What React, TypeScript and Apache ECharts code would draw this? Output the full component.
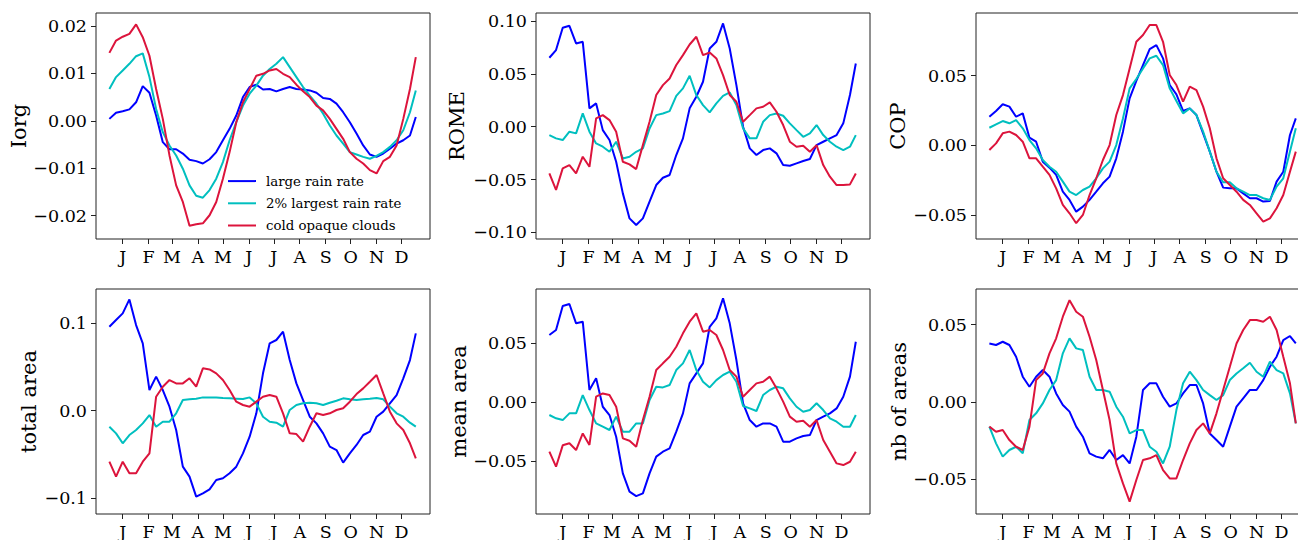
import React, { useEffect, useRef } from "react";
import * as echarts from "echarts";

// day of year (0 = 1 January)
const days = [-16, -8, 0, 8, 16, 24, 32, 40, 48, 56, 64, 72, 80, 88, 96, 104, 112, 120, 128, 136, 144, 152, 160, 168, 176, 184, 192, 200, 208, 216, 224, 232, 240, 248, 256, 264, 272, 280, 288, 296, 304, 312, 320, 328, 336, 344, 351];

const monthStarts = [0, 31, 59, 90, 120, 151, 181, 212, 243, 273, 304, 334];
const monthLabels = ["J", "F", "M", "A", "M", "J", "J", "A", "S", "O", "N", "D"];

const seriesNames = ["large rain rate", "2% largest rain rate", "cold opaque clouds"];

// Iorg
const iorgLarge = [0.0004, 0.0017, 0.0020, 0.0024, 0.0039, 0.0073, 0.0059, 0.0011, -0.0045, -0.0060, -0.0060, -0.0069, -0.0082, -0.0085, -0.0090, -0.0081, -0.0066, -0.0041, -0.0017, 0.0011, 0.0050, 0.0071, 0.0076, 0.0066, 0.0067, 0.0062, 0.0067, 0.0071, 0.0067, 0.0066, 0.0064, 0.0059, 0.0048, 0.0046, 0.0036, 0.0018, -0.0003, -0.0027, -0.0052, -0.0071, -0.0076, -0.0069, -0.0059, -0.0048, -0.0041, -0.0031, 0.0008];
const iorgTop2 = [0.0067, 0.0092, 0.0106, 0.0120, 0.0136, 0.0142, 0.0092, 0.0025, -0.0024, -0.0052, -0.0073, -0.0101, -0.0136, -0.0158, -0.0162, -0.0146, -0.0122, -0.0087, -0.0041, -0.0003, 0.0032, 0.0057, 0.0074, 0.0095, 0.0109, 0.0120, 0.0134, 0.0113, 0.0092, 0.0071, 0.0053, 0.0036, 0.0015, -0.0010, -0.0031, -0.0048, -0.0066, -0.0071, -0.0076, -0.0080, -0.0074, -0.0066, -0.0055, -0.0041, -0.0020, 0.0018, 0.0064];
const iorgCold = [0.0143, 0.0169, 0.0177, 0.0183, 0.0203, 0.0176, 0.0137, 0.0067, 0.0004, -0.0073, -0.0136, -0.0171, -0.0221, -0.0218, -0.0216, -0.0199, -0.0171, -0.0122, -0.0066, -0.0003, 0.0039, 0.0067, 0.0095, 0.0099, 0.0106, 0.0109, 0.0099, 0.0092, 0.0076, 0.0062, 0.0050, 0.0032, 0.0022, 0.0004, -0.0017, -0.0038, -0.0066, -0.0080, -0.0090, -0.0104, -0.0111, -0.0085, -0.0076, -0.0052, 0.0004, 0.0067, 0.0134];

// ROME
const romeLarge = [0.0653, 0.0726, 0.0937, 0.0956, 0.0789, 0.0804, 0.0174, 0.0221, -0.0032, -0.0126, -0.0331, -0.0631, -0.0868, -0.0931, -0.0868, -0.0710, -0.0552, -0.0483, -0.0457, -0.0268, -0.0110, 0.0174, 0.0284, 0.0426, 0.0741, 0.0804, 0.0978, 0.0741, 0.0394, 0.0000, -0.0205, -0.0268, -0.0221, -0.0205, -0.0252, -0.0363, -0.0369, -0.0347, -0.0325, -0.0306, -0.0174, -0.0142, -0.0110, -0.0079, 0.0032, 0.0300, 0.0599];
const romeTop2 = [-0.0079, -0.0110, -0.0126, -0.0047, -0.0063, 0.0126, -0.0047, -0.0158, -0.0189, -0.0237, -0.0142, -0.0300, -0.0284, -0.0237, -0.0205, -0.0016, 0.0110, 0.0126, 0.0148, 0.0293, 0.0363, 0.0483, 0.0300, 0.0205, 0.0136, 0.0221, 0.0293, 0.0325, 0.0205, -0.0016, -0.0110, -0.0110, 0.0047, 0.0110, 0.0126, 0.0104, 0.0032, -0.0032, -0.0095, -0.0063, 0.0016, -0.0079, -0.0142, -0.0189, -0.0221, -0.0189, -0.0079];
const romeCold = [-0.0442, -0.0599, -0.0394, -0.0363, -0.0442, -0.0284, -0.0379, 0.0079, 0.0110, 0.0063, -0.0047, -0.0331, -0.0356, -0.0401, -0.0174, 0.0047, 0.0300, 0.0394, 0.0457, 0.0584, 0.0678, 0.0779, 0.0852, 0.0678, 0.0703, 0.0647, 0.0489, 0.0300, 0.0237, 0.0047, 0.0110, 0.0174, 0.0189, 0.0230, 0.0142, 0.0016, -0.0142, -0.0189, -0.0180, -0.0237, -0.0174, -0.0363, -0.0473, -0.0552, -0.0552, -0.0546, -0.0442];

// COP
const copLarge = [0.0205, 0.0246, 0.0294, 0.0277, 0.0205, 0.0229, 0.0055, 0.0026, -0.0117, -0.0160, -0.0212, -0.0332, -0.0391, -0.0475, -0.0439, -0.0391, -0.0332, -0.0272, -0.0224, -0.0093, 0.0098, 0.0337, 0.0461, 0.0575, 0.0690, 0.0718, 0.0623, 0.0432, 0.0365, 0.0246, 0.0265, 0.0217, 0.0086, -0.0045, -0.0189, -0.0303, -0.0308, -0.0308, -0.0344, -0.0379, -0.0379, -0.0403, -0.0399, -0.0260, -0.0189, 0.0074, 0.0193];
const copTop2 = [0.0126, 0.0150, 0.0174, 0.0158, 0.0181, 0.0122, 0.0038, -0.0021, -0.0105, -0.0153, -0.0189, -0.0260, -0.0332, -0.0356, -0.0320, -0.0296, -0.0236, -0.0165, -0.0117, 0.0002, 0.0193, 0.0408, 0.0475, 0.0551, 0.0623, 0.0642, 0.0575, 0.0408, 0.0317, 0.0229, 0.0265, 0.0217, 0.0098, -0.0045, -0.0189, -0.0265, -0.0265, -0.0308, -0.0332, -0.0356, -0.0356, -0.0379, -0.0391, -0.0296, -0.0236, -0.0045, 0.0122];
const copCold = [-0.0033, 0.0014, 0.0086, 0.0098, 0.0074, 0.0026, -0.0093, -0.0093, -0.0153, -0.0212, -0.0308, -0.0427, -0.0487, -0.0558, -0.0499, -0.0356, -0.0236, -0.0105, 0.0002, 0.0217, 0.0360, 0.0551, 0.0742, 0.0790, 0.0862, 0.0862, 0.0742, 0.0504, 0.0432, 0.0313, 0.0420, 0.0396, 0.0277, 0.0122, -0.0093, -0.0236, -0.0284, -0.0332, -0.0391, -0.0427, -0.0487, -0.0547, -0.0523, -0.0451, -0.0356, -0.0189, -0.0045];

// total area
const areaLarge = [0.0960, 0.1036, 0.1112, 0.1272, 0.0979, 0.0770, 0.0236, 0.0389, 0.0236, 0.0046, -0.0221, -0.0640, -0.0754, -0.0983, -0.0945, -0.0899, -0.0792, -0.0773, -0.0716, -0.0640, -0.0488, -0.0297, -0.0030, 0.0427, 0.0770, 0.0808, 0.0903, 0.0579, 0.0312, 0.0122, -0.0069, -0.0145, -0.0259, -0.0411, -0.0450, -0.0594, -0.0488, -0.0392, -0.0278, -0.0240, -0.0069, -0.0011, 0.0084, 0.0179, 0.0370, 0.0579, 0.0884];
const areaTop2 = [-0.0183, -0.0259, -0.0373, -0.0278, -0.0221, -0.0145, -0.0050, -0.0183, -0.0126, -0.0126, -0.0030, 0.0122, 0.0130, 0.0137, 0.0152, 0.0152, 0.0152, 0.0145, 0.0141, 0.0137, 0.0133, 0.0152, 0.0084, -0.0069, -0.0126, -0.0137, -0.0183, 0.0008, 0.0065, 0.0084, 0.0091, 0.0084, 0.0065, 0.0091, 0.0114, 0.0141, 0.0130, 0.0122, 0.0130, 0.0137, 0.0145, 0.0130, 0.0046, -0.0030, -0.0069, -0.0137, -0.0183];
const areaCold = [-0.0583, -0.0754, -0.0583, -0.0716, -0.0716, -0.0583, -0.0488, 0.0160, 0.0274, 0.0350, 0.0312, 0.0312, 0.0370, 0.0274, 0.0484, 0.0472, 0.0427, 0.0350, 0.0236, 0.0103, 0.0065, 0.0046, 0.0103, 0.0160, 0.0179, 0.0160, -0.0030, -0.0259, -0.0267, -0.0354, -0.0183, -0.0030, -0.0050, -0.0030, 0.0008, 0.0027, 0.0103, 0.0190, 0.0255, 0.0331, 0.0408, 0.0198, -0.0011, -0.0145, -0.0221, -0.0373, -0.0545];

// mean area
const meanLarge = [0.0568, 0.0610, 0.0814, 0.0831, 0.0667, 0.0681, 0.0102, 0.0201, -0.0040, -0.0110, -0.0294, -0.0605, -0.0760, -0.0797, -0.0774, -0.0605, -0.0463, -0.0421, -0.0393, -0.0251, -0.0096, 0.0158, 0.0243, 0.0328, 0.0638, 0.0709, 0.0879, 0.0667, 0.0356, -0.0011, -0.0153, -0.0209, -0.0181, -0.0181, -0.0209, -0.0336, -0.0336, -0.0308, -0.0288, -0.0280, -0.0153, -0.0124, -0.0096, -0.0054, 0.0045, 0.0215, 0.0511];
const meanTop2 = [-0.0110, -0.0138, -0.0153, -0.0096, -0.0096, 0.0059, -0.0068, -0.0181, -0.0209, -0.0237, -0.0124, -0.0251, -0.0251, -0.0181, -0.0181, 0.0017, 0.0130, 0.0124, 0.0144, 0.0271, 0.0328, 0.0441, 0.0271, 0.0172, 0.0124, 0.0186, 0.0229, 0.0257, 0.0172, -0.0034, -0.0054, -0.0076, 0.0059, 0.0102, 0.0130, 0.0116, 0.0031, -0.0040, -0.0082, -0.0068, -0.0011, -0.0068, -0.0138, -0.0167, -0.0209, -0.0209, -0.0110];
const meanCold = [-0.0421, -0.0548, -0.0367, -0.0350, -0.0407, -0.0266, -0.0364, 0.0045, 0.0073, 0.0059, -0.0040, -0.0308, -0.0328, -0.0379, -0.0153, 0.0045, 0.0271, 0.0328, 0.0384, 0.0469, 0.0582, 0.0681, 0.0751, 0.0596, 0.0610, 0.0568, 0.0441, 0.0271, 0.0215, 0.0045, 0.0102, 0.0158, 0.0172, 0.0215, 0.0116, 0.0003, -0.0124, -0.0167, -0.0158, -0.0209, -0.0153, -0.0322, -0.0421, -0.0520, -0.0534, -0.0506, -0.0421];

// nb of areas
const nbLarge = [0.0379, 0.0369, 0.0390, 0.0369, 0.0293, 0.0164, 0.0099, 0.0164, 0.0207, 0.0164, 0.0056, -0.0019, -0.0062, -0.0159, -0.0224, -0.0332, -0.0353, -0.0364, -0.0310, -0.0375, -0.0343, -0.0397, -0.0224, 0.0078, 0.0121, 0.0121, 0.0034, -0.0030, -0.0009, 0.0056, 0.0110, 0.0110, -0.0009, -0.0203, -0.0246, -0.0289, -0.0159, -0.0030, 0.0024, 0.0078, 0.0078, 0.0142, 0.0228, 0.0293, 0.0401, 0.0427, 0.0379];
const nbTop2 = [-0.0159, -0.0267, -0.0353, -0.0310, -0.0289, -0.0332, -0.0116, -0.0073, -0.0009, 0.0078, 0.0142, 0.0315, 0.0412, 0.0347, 0.0336, 0.0164, 0.0078, 0.0078, 0.0067, -0.0030, -0.0095, -0.0203, -0.0181, -0.0181, -0.0289, -0.0321, -0.0397, -0.0289, -0.0052, 0.0121, 0.0196, 0.0142, 0.0078, 0.0045, 0.0013, 0.0045, 0.0142, 0.0185, 0.0218, 0.0254, 0.0196, 0.0164, 0.0261, 0.0207, 0.0185, 0.0056, -0.0138];
const nbCold = [-0.0159, -0.0192, -0.0181, -0.0246, -0.0289, -0.0310, -0.0159, 0.0142, 0.0185, 0.0315, 0.0412, 0.0552, 0.0659, 0.0584, 0.0552, 0.0422, 0.0272, 0.0078, -0.0116, -0.0397, -0.0526, -0.0644, -0.0504, -0.0375, -0.0364, -0.0343, -0.0440, -0.0494, -0.0494, -0.0375, -0.0267, -0.0181, -0.0138, -0.0203, -0.0073, 0.0078, 0.0228, 0.0379, 0.0466, 0.0530, 0.0530, 0.0519, 0.0552, 0.0466, 0.0293, 0.0121, -0.0138];

const yLabels = ["Iorg", "ROME", "COP", "total area", "mean area", "nb of areas"];
const yTicks = [
  [-0.02, -0.01, 0, 0.01, 0.02],
  [-0.1, -0.05, 0, 0.05, 0.1],
  [-0.05, 0, 0.05],
  [-0.1, 0, 0.1],
  [-0.05, 0, 0.05],
  [-0.05, 0, 0.05],
];
const yDecimals = [2, 2, 2, 1, 2, 2];
const yRanges = [
  [-0.0249, 0.0227],
  [-0.1063, 0.1077],
  [-0.0671, 0.0948],
  [-0.1181, 0.1391],
  [-0.0949, 0.0958],
  [-0.0724, 0.0731],
];
const panelData = [
  [iorgLarge, iorgTop2, iorgCold],
  [romeLarge, romeTop2, romeCold],
  [copLarge, copTop2, copCold],
  [areaLarge, areaTop2, areaCold],
  [meanLarge, meanTop2, meanCold],
  [nbLarge, nbTop2, nbCold],
];

const COLORS = ["#0000ff", "#00bfbf", "#dc143c"];
const FONT = "DejaVu Serif";

export default function App() {
  const ref = useRef<HTMLDivElement>(null);
  useEffect(() => {
    if (!ref.current) return;
    const chart = echarts.init(ref.current, undefined, { renderer: "svg" });
    const lefts = [96, 536, 976];
    const tops = [13, 289];
    const heights = [226, 225];
    const nameGaps = [66, 69, 68, 57, 67, 67];
    const grids: any[] = [];
    const xAxes: any[] = [];
    const yAxes: any[] = [];
    const series: any[] = [];
    for (let i = 0; i < 6; i++) {
      const c = i % 3;
      const r = Math.floor(i / 3);
      grids.push({
        left: lefts[c],
        top: tops[r],
        width: 334,
        height: heights[r],
        show: true,
        borderColor: "#222",
        borderWidth: 1,
        backgroundColor: "transparent",
        containLabel: false,
        outerBoundsMode: "none",
      });
      xAxes.push({
        type: "value",
        gridIndex: i,
        min: -32,
        max: 368,
        position: "bottom",
        axisLine: { show: false, onZero: false },
        splitLine: { show: false },
        axisTick: {
          show: true,
          length: 5,
          lineStyle: { color: "#222", width: 1 },
          customValues: monthStarts,
        },
        axisLabel: {
          show: true,
          margin: 10,
          color: "#000",
          fontFamily: FONT,
          fontSize: 17.5,
          lineHeight: 15,
          customValues: monthStarts,
          formatter: (v: number) => {
            const k = monthStarts.indexOf(Math.round(v));
            return k >= 0 ? monthLabels[k] : "";
          },
        },
      });
      const dec = yDecimals[i];
      yAxes.push({
        type: "value",
        gridIndex: i,
        min: yRanges[i][0],
        max: yRanges[i][1],
        position: "left",
        name: yLabels[i],
        nameLocation: "middle",
        nameRotate: 90,
        nameGap: nameGaps[i],
        nameTextStyle: { color: "#000", fontFamily: FONT, fontSize: 21 },
        axisLine: { show: false, onZero: false },
        splitLine: { show: false },
        axisTick: {
          show: true,
          length: 5,
          lineStyle: { color: "#222", width: 1 },
          customValues: yTicks[i],
        },
        axisLabel: {
          show: true,
          margin: 9,
          color: "#000",
          fontFamily: FONT,
          fontSize: 17.5,
          customValues: yTicks[i],
          formatter: (v: number) => v.toFixed(dec).replace("-", "\u2212"),
        },
      });
      panelData[i].forEach((arr, s) => {
        series.push({
          type: "line",
          name: seriesNames[s],
          xAxisIndex: i,
          yAxisIndex: i,
          data: days.map((d, k) => [d, arr[k]]),
          showSymbol: false,
          symbol: "none",
          smooth: false,
          lineStyle: { color: COLORS[s], width: 2 },
          itemStyle: { color: COLORS[s] },
          emphasis: { disabled: true },
        });
      });
    }
    chart.setOption({
      animation: false,
      backgroundColor: "#fff",
      legend: {
        data: seriesNames,
        orient: "vertical",
        left: 228,
        top: 170,
        padding: 0,
        itemGap: 0,
        itemWidth: 28,
        itemHeight: 2,
        icon: "rect",
        textStyle: {
          fontFamily: FONT,
          fontSize: 13.3,
          color: "#000",
          lineHeight: 22.2,
          padding: [0, 0, 0, 5],
        },
      },
      grid: grids,
      xAxis: xAxes,
      yAxis: yAxes,
      series,
    });
    return () => chart.dispose();
  }, []);
  return (
    <div
      style={{
        position: "fixed",
        left: 0,
        top: 0,
        width: 1298,
        height: 540,
        overflow: "hidden",
        background: "#fff",
      }}
    >
      <div ref={ref} style={{ width: 1320, height: 540 }} />
    </div>
  );
}
